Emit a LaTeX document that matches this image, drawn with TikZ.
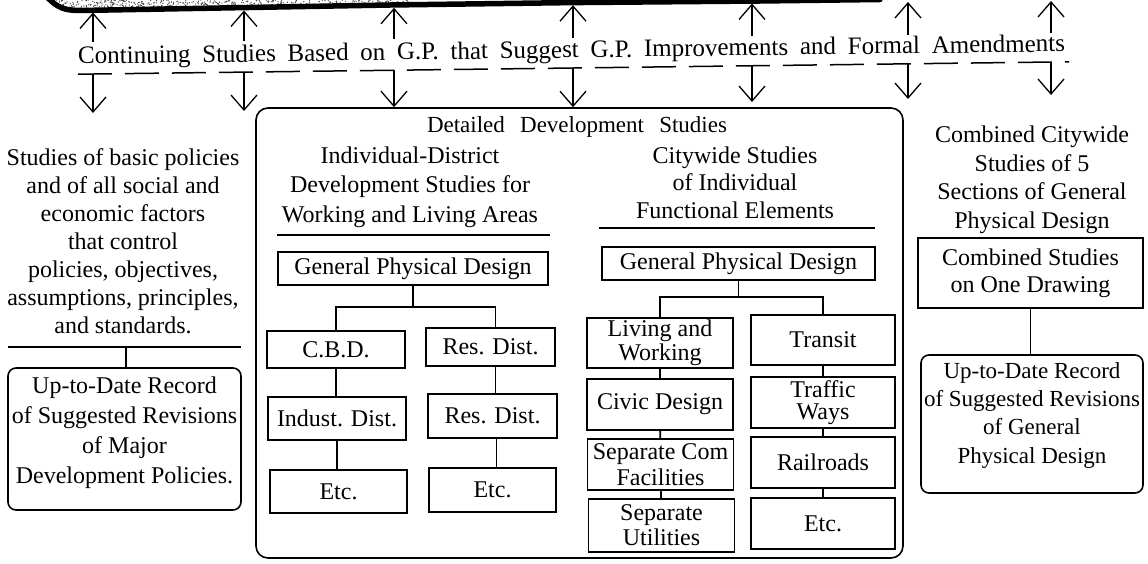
\documentclass[tikz,border=0pt]{standalone}
\usepackage{fontspec}
\setmainfont{Liberation Serif}
\usetikzlibrary{arrows.meta}
\begin{document}
\begin{tikzpicture}[x=1pt,y=-1pt,
  every node/.style={inner sep=0pt, font=\fontsize{24}{28}\selectfont},
  boxn/.style={draw, line width=1.6pt, align=center, inner sep=0pt},
  recn/.style={boxn, rounded corners=8pt},
  conn/.style={line width=1.6pt},
  arr/.style={line width=1.3pt, -{Straight Barb[length=15pt,width=26pt]}},
  txt/.style={align=center, anchor=north}]
\fill[white] (0,0) rectangle (1148,564);
\useasboundingbox (0,0) rectangle (1148,564);
\clip (0,0) rectangle (1148,564);

% ---------- top band (stippled region with thick edge) ----------
\begin{scope}
\clip (40,-12) -- (48,-2) .. controls (58,8) and (65,10.5) .. (80,10.5)
   -- (390,5) -- (572,2.6) -- (760,1) -- (880,-0.5) -- (880,-12) -- cycle;
\pgfmathsetseed{11}
\foreach \i in {1,...,650}{
  \fill[black!75] ({50+360*rnd},{10*rnd}) circle (0.65pt);
}
\end{scope}
\draw[line width=5.5pt, line cap=round] (48,-2) .. controls (58,8) and (65,10.5) .. (80,10.5)
   -- (390,5) -- (572,2.6) -- (760,1) -- (880,-0.5);

% ---------- continuing studies line ----------
\node[anchor=base west, rotate=0.72, font=\fontsize{25}{28}\selectfont] (cont) at (78,64)
  {\makebox[987pt][s]{Continuing Studies Based on G.P. that Suggest G.P. Improvements and Formal Amendments}};
\coordinate (dl) at (78,74.2);
\coordinate (dr) at (1069,61.8);
\draw[line width=1.5pt, dash pattern=on 34pt off 13pt] (dl) -- (dr);

% up arrows
\foreach \x/\tip/\tail in {93/12.5/42, 244/10.5/41, 394/7.8/39.5, 573/5.2/38, 752/3.5/36.5, 908/2/35, 1051/1/33.5}{
  \coordinate (ub\x) at (\x,\tail);
  \coordinate (ut\x) at (\x,\tip);
  \draw[arr] (ub\x) -- (ut\x);
}

% ---------- detailed development studies box ----------
\node[draw, rounded corners=12pt, line width=1.6pt, minimum width=647pt, minimum height=450pt] (ddbox) at (579.5,333) {};
\node[anchor=base, font=\fontsize{23}{26}\selectfont] (ddtitle) at (577,133) {\makebox[300pt][s]{Detailed Development Studies}};

% down arrows
\foreach \x/\yd/\tip in {93/73.8/113, 244/71.9/111, 752/65.6/102, 908/63.6/99, 1051/61.8/95}{
  \coordinate (ds\x) at (\x,\yd);
  \coordinate (de\x) at (\x,\tip);
  \draw[arr] (ds\x) -- (de\x);
}
\coordinate (ds394) at (394,70.0);
\coordinate (ds573) at (573,67.8);
\draw[arr] (ds394) -- (ds394 |- ddbox.north);
\draw[arr] (ds573) -- (ds573 |- ddbox.north);

% ---------- left column ----------
\node[txt] (basic) at (123,148.6) {Studies of basic policies\\and of all social and\\economic factors\\that control\\policies, objectives,\\assumptions, principles,\\and standards.};
\draw[conn] (8,347) -- (241,347);
\coordinate (lj) at (126,347);
\node[recn, minimum width=233pt, minimum height=142pt] (rec1) at (124.5,439) {};
\node[txt, font=\fontsize{24}{30}\selectfont] (rec1t) at (124.5,376.6) {Up-to-Date Record\\of Suggested Revisions\\of Major\\Development Policies.};
\draw[conn] (lj) -- (lj |- rec1.north);

% ---------- individual-district studies ----------
\node[txt, font=\fontsize{24}{29.5}\selectfont] (hdrL) at (410,146.6) {Individual-District\\Development Studies for\\Working and Living Areas};
\draw[conn] (277,235) -- (550,235);
\node[boxn, minimum width=270pt, minimum height=33pt] (gpdL) at (413,268.5) {General Physical Design};
\node[boxn, minimum width=138pt, minimum height=37pt] (cbd) at (336,349.5) {C.B.D.};
\node[boxn, minimum width=138pt, minimum height=43pt] (ind) at (337,418.5) {Indust. Dist.};
\node[boxn, minimum width=137pt, minimum height=43pt] (etcL) at (338.5,491.5) {Etc.};
\node[boxn, minimum width=129pt, minimum height=38pt] (res1) at (490.5,347) {Res. Dist.};
\node[boxn, minimum width=129pt, minimum height=44pt] (res2) at (492.5,416) {Res. Dist.};
\node[boxn, minimum width=127pt, minimum height=44pt] (etc2) at (492.5,490) {Etc.};
\coordinate (jL) at (413,307);
\draw[conn] (gpdL.south) -- (jL);
\draw[conn] (cbd.north) |- (jL) -| ([xshift=5pt]res1.north);
\draw[conn] (cbd.south) -- (cbd.south |- ind.north);
\draw[conn] (ind.south) -- (ind.south |- etcL.north);
\draw[conn] ([xshift=5pt]res1.south) -- ([xshift=5pt]res1.south |- res2.north);
\draw[conn] ([xshift=4pt]res2.south) -- ([xshift=4pt]res2.south |- etc2.north);

% ---------- citywide studies ----------
\node[txt, font=\fontsize{24}{27.5}\selectfont] (hdrR) at (735,146.6) {Citywide Studies\\of Individual\\Functional Elements};
\draw[conn] (599,228) -- (875,228);
\node[boxn, minimum width=273pt, minimum height=33pt] (gpdR) at (738.5,263.5) {General Physical Design};
\node[boxn, minimum width=146pt, minimum height=50pt, font=\fontsize{24}{24}\selectfont] (liv) at (660,343) {Living and\\Working};
\node[boxn, minimum width=146pt, minimum height=51pt] (civ) at (660,404.5) {Civic Design};
\node[boxn, minimum width=146pt, minimum height=51pt, font=\fontsize{24}{26}\selectfont] (sep) at (660.5,464.5) {Separate Com\\Facilities};
\node[boxn, minimum width=146pt, minimum height=53pt, font=\fontsize{24}{25}\selectfont] (utl) at (661.5,525.5) {Separate\\Utilities};
\node[boxn, minimum width=144pt, minimum height=50pt] (tra) at (823,340) {Transit};
\node[boxn, minimum width=144pt, minimum height=51pt, font=\fontsize{24}{22}\selectfont] (trw) at (823,402.5) {Traffic\\Ways};
\node[boxn, minimum width=144pt, minimum height=51pt] (rai) at (823,462.5) {Railroads};
\node[boxn, minimum width=144pt, minimum height=51pt] (etcR) at (823,523.5) {Etc.};
\coordinate (jR) at (738.5,297);
\draw[conn] (gpdR.south) -- (jR);
\draw[conn] (liv.north) |- (jR) -| (tra.north);
\draw[conn] (liv) -- (civ);
\draw[conn] (civ) -- (sep);
\draw[conn] (sep) -- (utl);
\draw[conn] (tra) -- (trw);
\draw[conn] (trw) -- (rai);
\draw[conn] (rai) -- (etcR);

% ---------- combined citywide studies ----------
\node[txt, font=\fontsize{24}{28.7}\selectfont] (hdrC) at (1032,125.6) {Combined Citywide\\Studies of 5\\Sections of General\\Physical Design};
\node[boxn, minimum width=225pt, minimum height=70pt, font=\fontsize{24}{27}\selectfont] (cmb) at (1030.5,273) {Combined Studies\\on One Drawing};
\node[recn, minimum width=222pt, minimum height=138pt] (rec2) at (1032,424) {};
\node[txt, font=\fontsize{23}{28.3}\selectfont] (rec2t) at (1032,362) {Up-to-Date Record\\of Suggested Revisions\\of General\\Physical Design};
\draw[conn] (cmb.south) -- (cmb.south |- rec2.north);
\end{tikzpicture}
\end{document}
